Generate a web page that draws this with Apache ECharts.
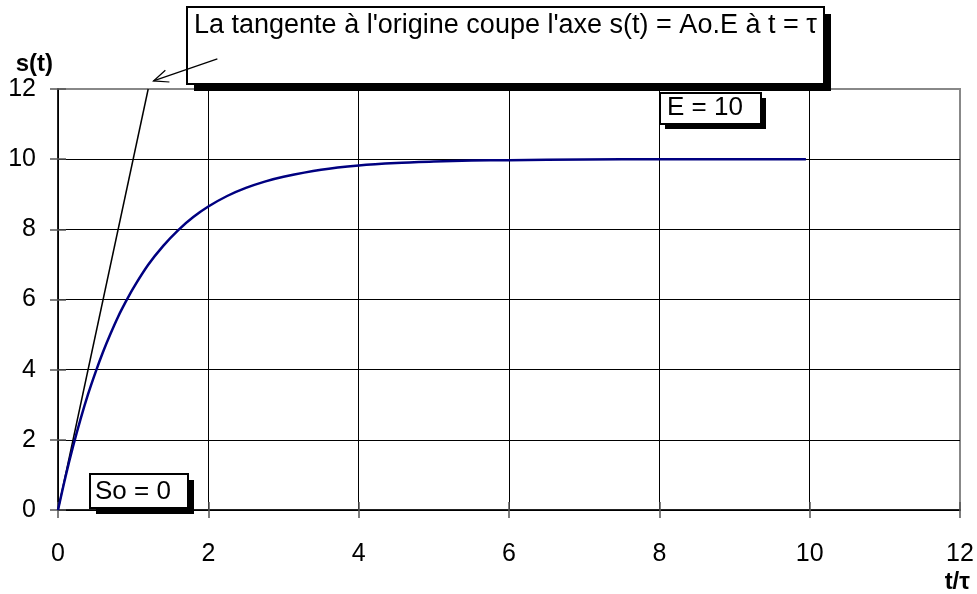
<!DOCTYPE html>
<html>
<head>
<meta charset="utf-8">
<script src="https://cdn.jsdelivr.net/npm/echarts@6/dist/echarts.min.js"></script>
<style>
  html, body { margin: 0; padding: 0; background: #fff; }
  #chart { width: 977px; height: 594px; }
</style>
</head>
<body>
<div id="chart"></div>
<script>
// Step response of a first-order system, t in units of tau
const tValues = [0, 0.1, 0.2, 0.3, 0.4, 0.5, 0.6, 0.7, 0.8, 0.9, 1, 1.2, 1.4, 1.6, 1.8, 2, 2.25, 2.5, 2.75, 3, 3.5, 4, 4.5, 5, 5.5, 6, 7, 8, 9, 9.95];
const sValues = [0, 0.95, 1.81, 2.59, 3.30, 3.93, 4.51, 5.03, 5.51, 5.93, 6.32, 6.99, 7.53, 7.98, 8.35, 8.65, 8.95, 9.18, 9.36, 9.50, 9.70, 9.82, 9.89, 9.93, 9.96, 9.97, 9.99, 10, 10, 10];

// Tangent at the origin, drawn up to the top of the axis
const tangentT = [0, 1.2];
const tangentS = [0, 12];

const xTicks = [0, 2, 4, 6, 8, 10, 12];
const yTicks = [0, 2, 4, 6, 8, 10, 12];

const noteText = "La tangente à l'origine coupe l'axe s(t) = Ao.E à t = τ";
const finalText = 'E = 10';
const startText = 'So = 0';

const FONT = '"Liberation Sans", Arial, sans-serif';

const chart = echarts.init(document.getElementById('chart'));

const axisCommon = {
  type: 'value',
  min: 0,
  max: 12,
  interval: 2,
  axisLine: { show: true, lineStyle: { color: '#000', width: 1.5 } },
  axisTick: { show: true, length: 8, lineStyle: { color: '#555', width: 1.5 } },
  splitLine: { show: true, showMaxLine: false, lineStyle: { color: '#000', width: 1 } },
  axisLabel: { fontFamily: FONT, fontSize: 25, color: '#000' }
};

// Second copy of each axis only adds the inner half of the tick marks
const innerTicks = {
  type: 'value', min: 0, max: 12, interval: 2, offset: 0,
  axisLine: { show: false },
  axisTick: { show: true, inside: true, length: 8, lineStyle: { color: '#555', width: 1.5 } },
  splitLine: { show: false },
  axisLabel: { show: false }
};

chart.setOption({
  animation: false,
  backgroundColor: '#fff',
  grid: {
    left: 58, right: 17, top: 89, bottom: 84,
    show: true, borderColor: '#888', borderWidth: 2, backgroundColor: 'transparent'
  },
  xAxis: [
    Object.assign({}, axisCommon, {
      position: 'bottom',
      axisLabel: Object.assign({}, axisCommon.axisLabel, { margin: 32, formatter: v => xTicks.includes(v) ? String(v) : '' }),
      name: 't/τ',
      nameLocation: 'end',
      nameGap: 10,
      nameTextStyle: { fontFamily: FONT, fontSize: 24, fontWeight: 'bold', color: '#000', align: 'right', verticalAlign: 'top', padding: [60, 0, 0, 0] }
    }),
    Object.assign({}, innerTicks, { position: 'bottom' })
  ],
  yAxis: [
    Object.assign({}, axisCommon, {
      position: 'left',
      axisLabel: Object.assign({}, axisCommon.axisLabel, { margin: 22, formatter: v => yTicks.includes(v) ? String(v) : '' }),
      name: 's(t)',
      nameLocation: 'end',
      nameGap: 11,
      nameTextStyle: { fontFamily: FONT, fontSize: 24, fontWeight: 'bold', color: '#000', align: 'right', padding: [0, 5, 0, 0] }
    }),
    Object.assign({}, innerTicks, { position: 'left' })
  ],
  series: [
    {
      type: 'line',
      data: tangentT.map((t, i) => [t, tangentS[i]]),
      showSymbol: false,
      lineStyle: { color: '#000', width: 1.5 },
      clip: false,
      z: 3
    },
    {
      type: 'line',
      data: tValues.map((t, i) => [t, sValues[i]]),
      smooth: 0.3,
      showSymbol: false,
      lineStyle: { color: '#000080', width: 2.5 },
      z: 4
    }
  ]
});

// Callout boxes with a solid black drop shadow
function box(x0, y0, x1, y1, text, shadow, fontSize, dx, dy) {
  return {
    type: 'group',
    z: 100,
    children: [
      { type: 'rect', shape: { x: x0 + shadow, y: y0 + shadow, width: x1 - x0, height: y1 - y0 }, style: { fill: '#000' } },
      { type: 'rect', shape: { x: x0, y: y0, width: x1 - x0, height: y1 - y0 }, style: { fill: '#fff', stroke: '#000', lineWidth: 2 } },
      { type: 'text', x: x0 + dx, y: y0 + dy, style: { text: text, fontFamily: FONT, fontSize: fontSize, fill: '#000', textVerticalAlign: 'top' } }
    ]
  };
}

const px = (t, s) => chart.convertToPixel({ gridIndex: 0 }, [t, s]);

// Arrow from the note towards the top of the tangent
const arrowFrom = px(2.12, 12.86);
const arrowTo = px(1.27, 12.23);
const ang = Math.atan2(arrowTo[1] - arrowFrom[1], arrowTo[0] - arrowFrom[0]);
const headLen = 16, headSpread = 0.4;
const h1 = [arrowTo[0] - headLen * Math.cos(ang - headSpread), arrowTo[1] - headLen * Math.sin(ang - headSpread)];
const h2 = [arrowTo[0] - headLen * Math.cos(ang + headSpread), arrowTo[1] - headLen * Math.sin(ang + headSpread)];

chart.setOption({
  graphic: [
    box(187, 7, 824, 84, noteText, 7, 27, 7, 5),
    box(660, 93, 761, 124, finalText, 5, 26, 7, 2),
    box(90, 474, 188, 508, startText, 6, 26, 5, 5),
    {
      type: 'polyline', z: 110,
      shape: { points: [arrowFrom, arrowTo] },
      style: { stroke: '#000', lineWidth: 1.2, fill: null }
    },
    {
      type: 'polyline', z: 110,
      shape: { points: [h1, arrowTo, h2] },
      style: { stroke: '#000', lineWidth: 1.2, fill: null }
    }
  ]
});
</script>
</body>
</html>
